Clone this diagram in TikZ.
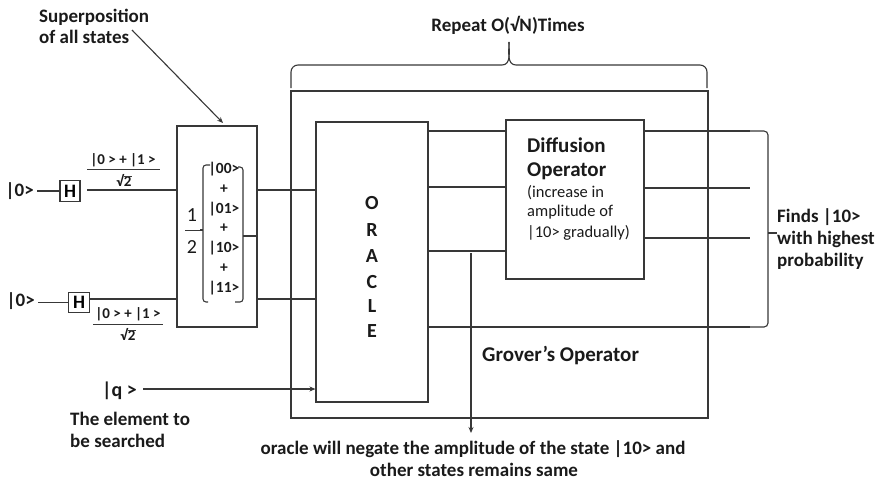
\documentclass[tikz,border=0pt]{standalone}
\usepackage{fontspec}
\setmainfont{Carlito}
\usetikzlibrary{arrows.meta}
\definecolor{linec}{HTML}{383838}
\definecolor{txtc}{HTML}{1A1A1A}
\begin{document}
\begin{tikzpicture}[x=1pt,y=-1pt,
  wire/.style={draw=linec, line width=1.1pt},
  box/.style={draw=linec, line width=1.1pt, inner sep=0pt, fill=none},
  arr/.style={wire, -{Stealth[length=6pt,width=5pt]}},
  bt/.style={font=\bfseries\fontsize{19}{23}\selectfont, text=txtc, inner sep=0pt},
  bbt/.style={font=\bfseries\fontsize{21}{25}\selectfont, text=txtc, inner sep=0pt},
  st/.style={font=\fontsize{16.5}{20}\selectfont, text=txtc, inner sep=0pt},
  kt/.style={font=\bfseries\fontsize{15.5}{18}\selectfont, text=txtc, inner sep=0pt},
  ft/.style={font=\bfseries\fontsize{15}{17}\selectfont, text=txtc, inner sep=0pt},
  lm/.style={font=\fontsize{20}{24}\selectfont, text=txtc, inner sep=0pt}]
\useasboundingbox (0,0) rectangle (880,482);

% boxes
\node[box, minimum width=80pt, minimum height=201pt] (sup) at (217,226.5) {};
\node[box, minimum width=417pt, minimum height=327pt] (grov) at (499.5,254.5) {};
\node[box, minimum width=112pt, minimum height=280pt] (orc) at (372,262) {};
\node[box, minimum width=138pt, minimum height=159pt] (dif) at (575,199.5) {};
\node[box, minimum width=20pt, minimum height=21pt, font=\bfseries\fontsize{19}{23}\selectfont] (Ha) at (70,191) {H};
\node[box, minimum width=21pt, minimum height=20pt, font=\bfseries\fontsize{19}{23}\selectfont] (Hb) at (79,302.5) {H};

% inputs
\node[bt, anchor=base east] (k0a) at (34,196.5) {|0>};
\node[bt, anchor=base east] (k0b) at (35,306.5) {|0>};
\draw[wire] (k0a.east |- Ha.west) ++(3,0) coordinate (k0ae) -- (Ha.west);
\draw[wire] (k0b.east |- Hb.west) ++(3,0) coordinate (k0be) -- (Hb.west);

% coordinates of wire rows
\coordinate (r1) at (0,190);
\coordinate (r2) at (0,299);
\coordinate (o1) at (0,131);
\coordinate (o2) at (0,187);
\coordinate (o3) at (0,251);
\coordinate (o4) at (0,327);
\coordinate (d3) at (0,238);
\coordinate (q) at (0,389);
\coordinate (rgt) at (750,0);
\coordinate (aw) at (87,190);

\draw[wire] (aw) -- (sup.west |- r1);
\draw[wire] (Hb.east |- r2) -- (sup.west |- r2);
\draw[wire] (sup.east |- r1) -- (orc.west |- r1);
\draw[wire] (sup.east |- r2) -- (orc.west |- r2);
\draw[wire] (orc.east |- o1) -- (dif.west |- o1);
\draw[wire] (orc.east |- o2) -- (dif.west |- o2);
\draw[wire] (orc.east |- o3) -- (dif.west |- o3);
\draw[wire] (orc.east |- o4) -- (rgt |- o4);
\draw[wire] (dif.east |- o1) -- (rgt |- o1);
\draw[wire] (dif.east |- 0,188) -- (rgt |- 0,188);
\draw[wire] (dif.east |- d3) -- (rgt |- d3);

% fractions
\node[ft, anchor=base] (fna) at (123,164) {|0 > + |1 >};
\draw[wire, line width=0.9pt] (87,169) -- (160,169);
\node[ft, anchor=base] (fda) at (124,186) {√2};
\draw[linec, line width=0.7pt] (fda.north east) ++(0,2.5) -- ++(-8,0);
\node[ft, anchor=base] (fnb) at (128,318) {|0 > + |1 >};
\draw[wire, line width=0.9pt] (93,324) -- (163,324);
\node[ft, anchor=base] (fdb) at (128,340) {√2};
\draw[linec, line width=0.7pt] (fdb.north east) ++(0,2.5) -- ++(-8,0);

% 1/2 and brackets
\node[lm] (one) at (192,215) {1};
\node[lm] (two) at (192,247) {2};
\draw[wire, line width=0.9pt] (185,230) -- (200,230);
\draw[wire, rounded corners=3pt] (210,165) -- (203,165) -- (203,302) -- (208,302);
\draw[wire] (203,230) -- (200,230);
\draw[wire, rounded corners=3pt] (238,167) -- (243,167) -- (243,302) -- (235,302);
\draw[wire] (243,236) -- (sup.east |- 0,236);
\node[kt, anchor=base] (s00) at (224,173.5) {|00>};
\node[kt, anchor=base] (p1) at (224,193) {+};
\node[kt, anchor=base] (s01) at (224,213.5) {|01>};
\node[kt, anchor=base] (p2) at (224,232) {+};
\node[kt, anchor=base] (s10) at (224,252.5) {|10>};
\node[kt, anchor=base] (p3) at (224,272) {+};
\node[kt, anchor=base] (s11) at (224,292.5) {|11>};

% superposition label
\node[bt, anchor=base west] (sp1) at (39,22) {Superposition};
\node[bt, anchor=base west] (sp2) at (39,43) {of all states};
\coordinate (spa) at (132,30);
\coordinate (spb) at (223,123);
\draw[arr] (spa) -- (spb);

% repeat brace
\node[bt, anchor=base] (rep) at (508,31) {Repeat O(√N)Times};
\coordinate (bl) at (291,88);
\coordinate (br) at (707,88);
\coordinate (bt0) at (509,42);
\draw[wire] (bl) -- (291,72) to[out=90,in=180] (298,65) -- (502,65) to[out=0,in=-90] (bt0);
\draw[wire] (bt0) to[out=-90,in=180] (516,65) -- (700,65) to[out=0,in=90] (707,72) -- (br);

% oracle letters
\foreach \l/\yy [count=\i] in {O/209.5,R/236.5,A/262.5,C/288.5,L/312.5,E/337.5}
  \node[font=\bfseries\fontsize{20}{24}\selectfont, text=txtc, inner sep=0pt, anchor=base] (ol\i) at (372,\yy) {\l};

% diffusion text
\node[bbt, anchor=base west] (df1) at (527,152) {Diffusion};
\node[bbt, anchor=base west] (df2) at (527,176) {Operator};
\node[st, anchor=base west] (df3) at (527,197) {(increase in};
\node[st, anchor=base west] (df4) at (527,216) {amplitude of};
\node[st, anchor=base west] (df5) at (527,237) {|10> gradually)};

% right brace and result
\draw[wire, rounded corners=4pt] (rgt |- o1) -- (768,131) -- (768,327) -- (rgt |- o4);
\coordinate (tip) at (777,233);
\draw[wire] (768,233) -- (tip);
\node[bt, anchor=base west] (fd1) at (777,222) {Finds |10>};
\node[bt, anchor=base west] (fd2) at (777,244) {with highest};
\node[bt, anchor=base west] (fd3) at (777,266) {probability};

% grover label
\node[bbt, anchor=base west] (gl) at (482,361) {Grover’s Operator};

% q input
\node[font=\bfseries\fontsize{20}{24}\selectfont, text=txtc, inner sep=0pt, anchor=base west] (qk) at (102,396) {|q >};
\draw[arr] (143,389) -- (orc.west |- q);
\node[bt, anchor=base west] (el1) at (70,425) {The element to};
\node[bt, anchor=base west] (el2) at (70,447) {be searched};

% oracle note arrow
\coordinate (va) at (471,253);
\node[bt, anchor=base] (on1) at (473,454) {oracle will negate the amplitude of the state |10> and};
\node[bt, anchor=base] (on2) at (474,476) {other states remains same};
\coordinate (vb) at (471,433);
\draw[arr] (va) -- (vb);
\end{tikzpicture}
\end{document}
